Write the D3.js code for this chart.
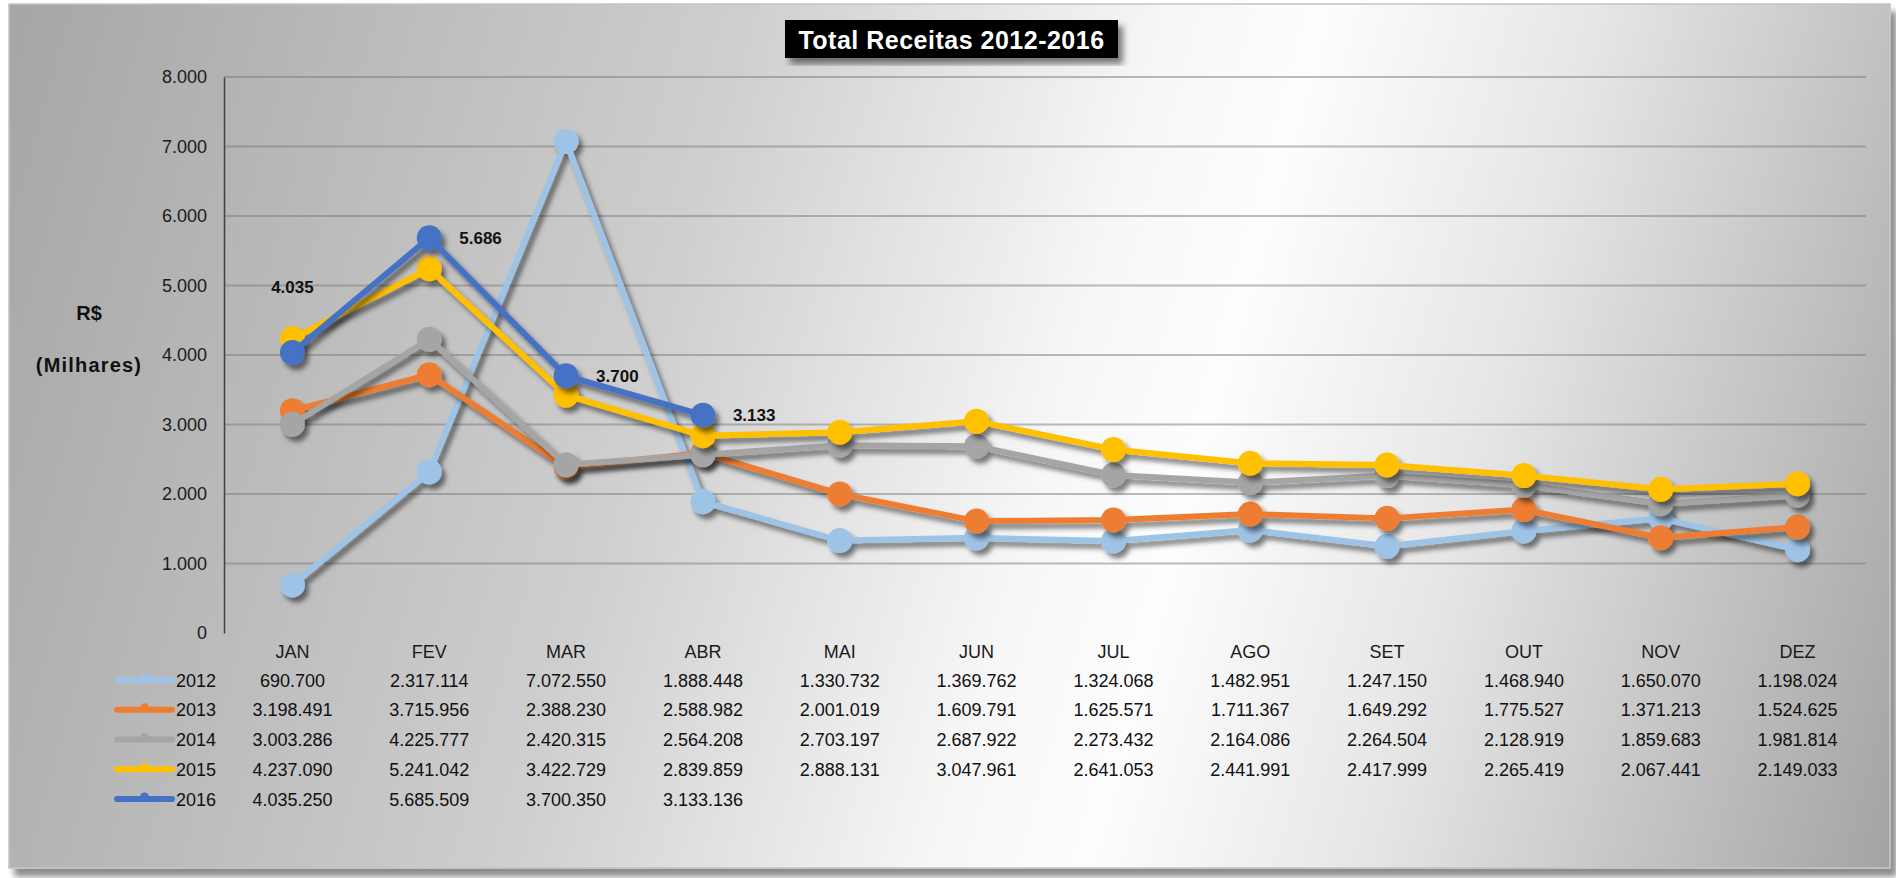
<!DOCTYPE html>
<html>
<head>
<meta charset="utf-8">
<script src="https://cdn.jsdelivr.net/npm/d3@7/dist/d3.min.js"></script>
<style>
  body { margin: 0; background: #fff; }
  svg text { font-family: "Liberation Sans", Arial, sans-serif; }
</style>
</head>
<body>
<div id="chart"></div>
<script>
'use strict';

var months = ["JAN", "FEV", "MAR", "ABR", "MAI", "JUN", "JUL", "AGO", "SET", "OUT", "NOV", "DEZ"];
var years = ["2012", "2013", "2014", "2015", "2016"];
var colors = ["#9dc3e6", "#ed7d31", "#a5a5a5", "#ffc000", "#4472c4"];

var rec2012 = [690700, 2317114, 7072550, 1888448, 1330732, 1369762, 1324068, 1482951, 1247150, 1468940, 1650070, 1198024];
var rec2013 = [3198491, 3715956, 2388230, 2588982, 2001019, 1609791, 1625571, 1711367, 1649292, 1775527, 1371213, 1524625];
var rec2014 = [3003286, 4225777, 2420315, 2564208, 2703197, 2687922, 2273432, 2164086, 2264504, 2128919, 1859683, 1981814];
var rec2015 = [4237090, 5241042, 3422729, 2839859, 2888131, 3047961, 2641053, 2441991, 2417999, 2265419, 2067441, 2149033];
var rec2016 = [4035250, 5685509, 3700350, 3133136];

var yTicks = [0, 1000000, 2000000, 3000000, 4000000, 5000000, 6000000, 7000000, 8000000];
var labelPlace2016 = ["above", "right", "right", "right"];

var series = [rec2012, rec2013, rec2014, rec2015, rec2016].map(function (vals, i) {
  return { year: years[i], color: colors[i], values: vals };
});

var width = 1896, height = 878;
var plot = { left: 224, right: 1866, top: 77, bottom: 633 };

var br = d3.formatLocale({ decimal: ",", thousands: ".", grouping: [3], currency: ["R$", ""] });
var fmt = br.format(",.0f");

var svg = d3.select("#chart").append("svg")
  .attr("width", width)
  .attr("height", height);

var defs = svg.append("defs");

// background gradient, light band slightly tilted
var nx = 0.964, ny = 0.266, cx = 1150, cy = 440;
var grad = defs.append("linearGradient")
  .attr("id", "bg")
  .attr("gradientUnits", "userSpaceOnUse")
  .attr("x1", cx - 1215 * nx).attr("y1", cy - 1215 * ny)
  .attr("x2", cx + 830 * nx).attr("y2", cy + 830 * ny);
[[0, "#a6a6a6"], [0.35, "#cfcfcf"], [0.55, "#f7f7f7"], [0.62, "#fdfdfd"], [0.75, "#e6e6e6"], [1, "#a3a3a3"]]
  .forEach(function (s) {
    grad.append("stop").attr("offset", s[0]).attr("stop-color", s[1]);
  });

function shadow(id, dx, dy, sd, op) {
  defs.append("filter")
    .attr("id", id)
    .attr("x", "-10%").attr("y", "-10%")
    .attr("width", "130%").attr("height", "130%")
    .append("feDropShadow")
    .attr("dx", dx).attr("dy", dy)
    .attr("stdDeviation", sd)
    .attr("flood-color", "#000")
    .attr("flood-opacity", op);
}
shadow("frameShadow", 6, 8, 3, 0.45);
shadow("lineShadow", 4, 5, 2.5, 0.5);
shadow("titleShadow", 5, 6, 3, 0.5);

svg.append("rect")
  .attr("x", 9).attr("y", 4)
  .attr("width", 1881).attr("height", 864)
  .attr("fill", "url(#bg)")
  .attr("stroke", "#c4c4c4")
  .attr("stroke-width", 1.5)
  .attr("filter", "url(#frameShadow)");

var x = d3.scaleBand().domain(months).range([plot.left, plot.right]);
var y = d3.scaleLinear().domain([0, 8000000]).range([plot.bottom, plot.top]);
var xc = function (i) { return x(months[i]) + x.bandwidth() / 2; };

// grid
svg.append("g").attr("class", "grid")
  .selectAll("line")
  .data(yTicks.filter(function (d) { return d > 0; }))
  .enter().append("line")
  .attr("x1", plot.left).attr("x2", plot.right)
  .attr("y1", function (d) { return y(d); })
  .attr("y2", function (d) { return y(d); })
  .attr("stroke", "#7a7a7a")
  .attr("stroke-opacity", 0.5)
  .attr("stroke-width", 2);

// y axis
var yAxis = svg.append("g")
  .attr("transform", "translate(" + plot.left + ",0)")
  .call(d3.axisLeft(y).tickValues(yTicks).tickSize(0).tickPadding(17)
    .tickFormat(function (d) { return fmt(d / 1000); }));
yAxis.select(".domain").attr("stroke", "#404040").attr("stroke-width", 1.5);
yAxis.selectAll("text").attr("font-size", 18).attr("fill", "#1a1a1a")
  .attr("font-family", "'Liberation Sans', Arial, sans-serif");

// x axis
var xAxis = svg.append("g")
  .attr("transform", "translate(0," + plot.bottom + ")")
  .call(d3.axisBottom(x).tickSize(0).tickPadding(12));
xAxis.select(".domain").remove();
xAxis.append("line")
  .attr("x1", plot.left).attr("x2", plot.right)
  .attr("stroke", "#3d3d3d").attr("stroke-width", 4.5)
  .attr("filter", "url(#lineShadow)");
xAxis.selectAll("text").attr("font-size", 18).attr("fill", "#1a1a1a")
  .attr("font-family", "'Liberation Sans', Arial, sans-serif");

// axis title
svg.append("text")
  .attr("x", 89).attr("y", 320)
  .attr("text-anchor", "middle")
  .attr("font-size", 20).attr("font-weight", "bold")
  .attr("fill", "#111")
  .text("R$");
svg.append("text")
  .attr("x", 89).attr("y", 372)
  .attr("text-anchor", "middle")
  .attr("font-size", 20).attr("font-weight", "bold")
  .attr("letter-spacing", 1.2)
  .attr("fill", "#111")
  .text("(Milhares)");

// series
var line = d3.line()
  .x(function (d, i) { return xc(i); })
  .y(function (d) { return y(d); });

var sg = svg.selectAll(".series")
  .data(series)
  .enter().append("g")
  .attr("class", "series")
  .attr("filter", "url(#lineShadow)");

sg.append("path")
  .attr("d", function (d) { return line(d.values); })
  .attr("fill", "none")
  .attr("stroke", function (d) { return d.color; })
  .attr("stroke-width", 6)
  .attr("stroke-linejoin", "round")
  .attr("stroke-linecap", "round");

sg.selectAll("circle")
  .data(function (d) { return d.values.map(function (v, i) { return { v: v, i: i, color: d.color }; }); })
  .enter().append("circle")
  .attr("cx", function (d) { return xc(d.i); })
  .attr("cy", function (d) { return y(d.v); })
  .attr("r", 12.5)
  .attr("fill", function (d) { return d.color; });

// data labels for 2016
svg.append("g").selectAll("text")
  .data(rec2016)
  .enter().append("text")
  .attr("x", function (d, i) { return labelPlace2016[i] == "above" ? xc(i) : xc(i) + 30; })
  .attr("y", function (d, i) { return labelPlace2016[i] == "above" ? y(d) - 60 : y(d) + 6; })
  .attr("text-anchor", function (d, i) { return labelPlace2016[i] == "above" ? "middle" : "start"; })
  .attr("font-size", 17).attr("font-weight", "bold")
  .attr("fill", "#111")
  .text(function (d) { return fmt(d / 1000); });

// data table
var rowY = d3.scalePoint().domain(years).range([680, 799]);
var table = svg.append("g").attr("class", "table");

var rows = table.selectAll(".row")
  .data(series)
  .enter().append("g")
  .attr("class", "row")
  .attr("transform", function (d) { return "translate(0," + rowY(d.year) + ")"; });

rows.append("line")
  .attr("x1", 117).attr("x2", 172)
  .attr("stroke", function (d) { return d.color; })
  .attr("stroke-width", 6)
  .attr("stroke-linecap", "round");
rows.append("circle")
  .attr("cx", 144.5).attr("cy", -2)
  .attr("r", 4.5)
  .attr("fill", function (d) { return d.color; });
rows.append("text")
  .attr("x", 176).attr("y", 6.5)
  .attr("font-size", 18).attr("fill", "#111")
  .text(function (d) { return d.year; });

rows.selectAll(".val")
  .data(function (d) { return d.values; })
  .enter().append("text")
  .attr("class", "val")
  .attr("x", function (d, i) { return xc(i); })
  .attr("y", 6.5)
  .attr("text-anchor", "middle")
  .attr("font-size", 18).attr("fill", "#111")
  .text(function (d) { return fmt(d); });

// title
var title = svg.append("g");
title.append("rect")
  .attr("x", 785).attr("y", 20)
  .attr("width", 333).attr("height", 38)
  .attr("fill", "#000")
  .attr("filter", "url(#titleShadow)");
title.append("text")
  .attr("x", 951.5).attr("y", 49)
  .attr("text-anchor", "middle")
  .attr("font-size", 25).attr("font-weight", "bold")
  .attr("letter-spacing", 0.5)
  .attr("fill", "#fff")
  .text("Total Receitas 2012-2016");
</script>
</body>
</html>
